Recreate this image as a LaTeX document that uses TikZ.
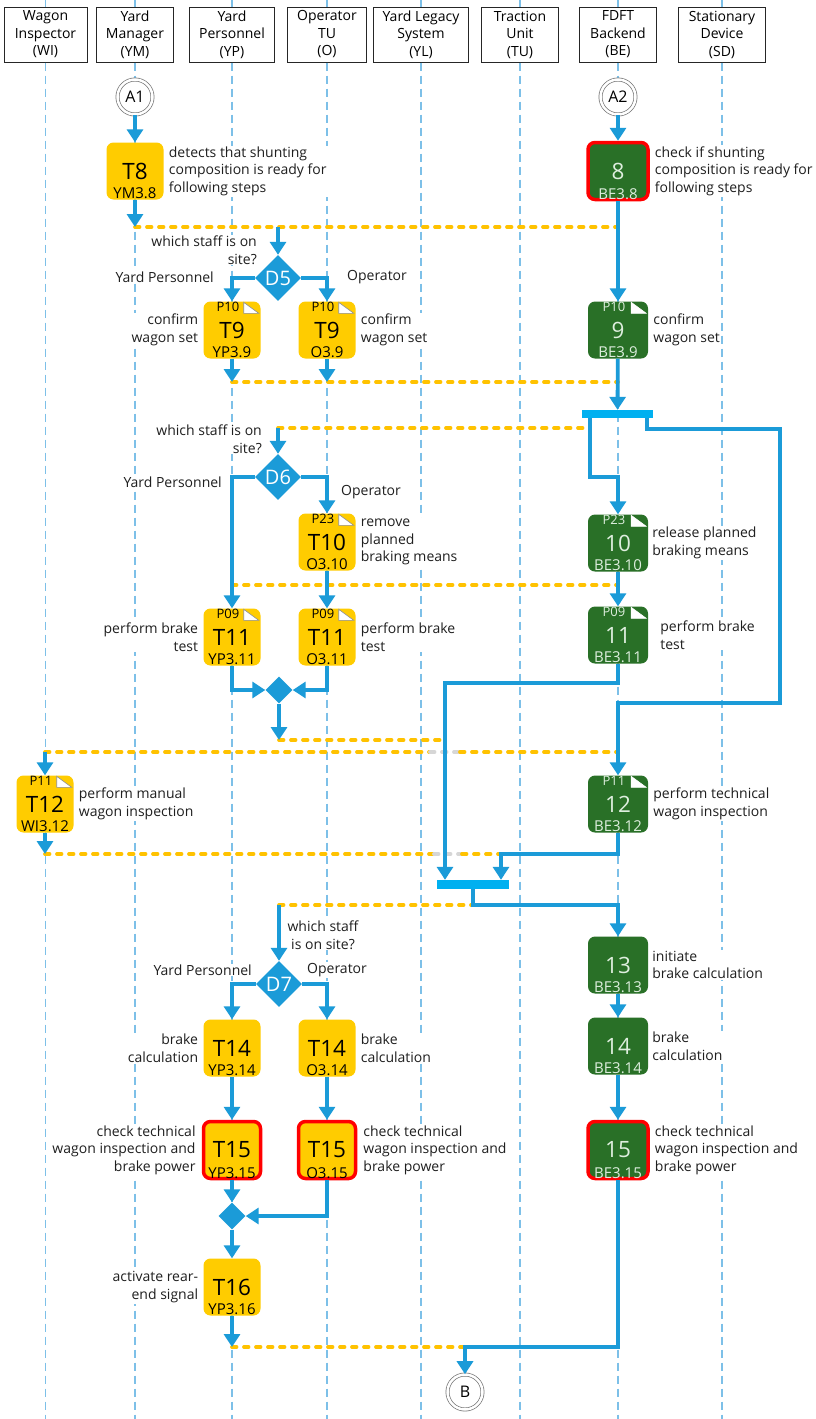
\documentclass[tikz,border=0pt]{standalone}
\usepackage{fontspec}
\setmainfont{Open Sans}
\usetikzlibrary{arrows.meta,shapes.geometric,positioning}

\definecolor{flowblue}{RGB}{27,155,216}
\definecolor{barblue}{RGB}{0,176,240}
\definecolor{taskyellow}{RGB}{255,204,0}
\definecolor{syncyellow}{RGB}{255,194,0}
\definecolor{begreen}{RGB}{41,112,39}
\definecolor{betext}{RGB}{222,238,222}
\definecolor{lanecol}{RGB}{125,192,232}
\definecolor{crossgrey}{RGB}{214,214,214}

\begin{document}
\begin{tikzpicture}[
    x=1pt, y=-1pt,
    >={Triangle[width=16pt,length=13pt]},
    font=\fontsize{14}{17.5}\selectfont,
    header/.style={
        draw=black!85,
        fill=white,
        line width=1pt,
        minimum height=55pt,
        inner sep=0pt,
        align=center
    },
    lane/.style={
        draw=lanecol,
        line width=1.1pt,
        dash pattern=on 8pt off 5pt
    },
    sync/.style={
        draw=syncyellow,
        line width=3.8pt,
        line cap=round,
        dash pattern=on 4.5pt off 7.5pt
    },
    crossing/.style={
        sync,
        draw=crossgrey
    },
    flow/.style={
        ->,
        draw=flowblue,
        line width=3.8pt
    },
    ytask/.style={
        fill=taskyellow,
        rounded corners=7pt,
        minimum width=57pt,
        minimum height=57pt,
        inner sep=0pt,
        font=\fontsize{22.5}{22.5}\selectfont
    },
    gtask/.style={
        ytask,
        fill=begreen,
        minimum width=60pt,
        text=betext
    },
    alert/.style={
        draw=red,
        line width=3.5pt
    },
    ymark/.style={
        anchor=south,
        inner sep=1pt,
        font=\fontsize{15}{15}\selectfont
    },
    gmark/.style={
        ymark,
        text=betext
    },
    ypage/.style={
        anchor=north,
        xshift=-4pt,
        inner sep=0.8pt,
        font=\fontsize{13}{13}\selectfont
    },
    gpage/.style={
        ypage,
        text=betext
    },
    ypageicon/.style={
        fill=white,
        draw=black!45,
        line width=0.6pt
    },
    gpageicon/.style={
        fill=white,
        draw=white,
        line width=0.6pt
    },
    bar/.style={
        fill=barblue,
        inner sep=0pt
    },
    decision/.style={
        diamond,
        fill=flowblue,
        text=white,
        minimum width=46pt,
        minimum height=46pt,
        inner sep=0pt,
        font=\fontsize{20}{20}\selectfont
    },
    merge/.style={
        diamond,
        fill=flowblue,
        minimum width=27pt,
        minimum height=27pt,
        inner sep=0pt
    },
    endpoint/.style={
        circle,
        draw=black!55,
        fill=white,
        line width=0.7pt,
        double=white,
        double distance=2.5pt,
        minimum size=35pt,
        inner sep=0pt,
        font=\fontsize{16}{16}\selectfont
    },
    desc/.style={
        fill=white,
        inner sep=1pt,
        align=left,
        text=black!88
    },
    descl/.style={
        desc,
        align=right
    },
    choice/.style={
        fill=white,
        inner sep=1pt,
        text=black!88
    }
]

\path[use as bounding box, fill=white] (0,0) rectangle (815,1419);

\node[header, minimum width=83pt] (hwi) at (45.5,34.5)
    {Wagon\\Inspector\\(WI)};
\node[header, minimum width=77pt] (hym) at (135,34.5)
    {Yard\\Manager\\(YM)};
\node[header, minimum width=85pt] (hyp) at (232,34.5)
    {Yard\\Personnel\\(YP)};
\node[header, minimum width=79pt] (ho) at (327,34.5)
    {Operator\\TU\\(O)};
\node[header, minimum width=95pt] (hyl) at (421,34.5)
    {Yard Legacy\\System\\(YL)};
\node[header, minimum width=77pt] (htu) at (520,34.5)
    {Traction\\Unit\\(TU)};
\node[header, minimum width=77pt] (hbe) at (618,34.5)
    {FDFT\\Backend\\(BE)};
\node[header, minimum width=87pt] (hsd) at (722,34.5)
    {Stationary\\Device\\(SD)};

\draw[lane] (hwi.north) -- ++(0,-8);
\draw[lane] (hym.north) -- ++(0,-8);
\draw[lane] (hyp.north) -- ++(0,-8);
\draw[lane] (ho.north) -- ++(0,-8);
\draw[lane] (hyl.north) -- ++(0,-8);
\draw[lane] (htu.north) -- ++(0,-8);
\draw[lane] (hbe.north) -- ++(0,-8);
\draw[lane] (hsd.north) -- ++(0,-8);
\draw[lane] (hwi.south) -- ++(0,1360);
\draw[lane] (hym.south) -- ++(0,1360);
\draw[lane] (hyp.south) -- ++(0,1360);
\draw[lane] (ho.south) -- ++(0,1360);
\draw[lane] (hyl.south) -- ++(0,1360);
\draw[lane] (htu.south) -- ++(0,1360);
\draw[lane] (hbe.south) -- ++(0,1360);
\draw[lane] (hsd.south) -- ++(0,1360);


\node[endpoint] (a1) at (135,97) {A1};
\node[endpoint] (a2) at (618,97) {A2};

\node[ytask, label={[ymark]south:YM3.8}] (t8) at (135,171) {T8};
\node[gtask, alert, label={[gmark]south:BE3.8}] (n8) at (618,171) {8};

\node[decision] (d5) at (278,278) {D5};

\node[ytask, label={[ypage]north:P10}, label={[ymark]south:YP3.9}] (t9yp) at (232,330) {T9};
\node[ytask, label={[ypage]north:P10}, label={[ymark]south:O3.9}] (t9o) at (327,330) {T9};
\node[gtask, label={[gpage]north:P10}, label={[gmark]south:BE3.9}] (n9) at (618,330) {9};

\node[bar, minimum width=71pt, minimum height=8pt] (bar1) at (617.5,414) {};

\node[decision] (d6) at (278,477) {D6};

\node[ytask, label={[ypage]north:P23}, label={[ymark]south:O3.10}] (t10) at (327,542) {T10};
\node[gtask, label={[gpage]north:P23}, label={[gmark]south:BE3.10}] (n10) at (618,543) {10};

\node[ytask, label={[ypage]north:P09}, label={[ymark]south:YP3.11}] (t11yp) at (232,637) {T11};
\node[ytask, label={[ypage]north:P09}, label={[ymark]south:O3.11}] (t11o) at (327,637) {T11};
\node[gtask, label={[gpage]north:P09}, label={[gmark]south:BE3.11}] (n11) at (618,635) {11};

\node[merge] (m1) at (279,690) {};

\node[ytask, label={[ypage]north:P11}, label={[ymark]south:WI3.12}] (t12) at (45,804) {T12};
\node[gtask, label={[gpage]north:P11}, label={[gmark]south:BE3.12}] (n12) at (618,804) {12};

\node[bar, minimum width=72pt, minimum height=9pt] (bar2) at (473,884.5) {};

\node[decision] (d7) at (279,984) {D7};

\node[gtask, label={[gmark]south:BE3.13}] (n13) at (618,965) {13};
\node[ytask, label={[ymark]south:YP3.14}] (t14yp) at (232,1048) {T14};
\node[ytask, label={[ymark]south:O3.14}] (t14o) at (327,1048) {T14};
\node[gtask, label={[gmark]south:BE3.14}] (n14) at (618,1046) {14};

\node[ytask, alert, label={[ymark]south:YP3.15}] (t15yp) at (232,1150) {T15};
\node[ytask, alert, label={[ymark]south:O3.15}] (t15o) at (327,1150) {T15};
\node[gtask, alert, label={[gmark]south:BE3.15}] (n15) at (618,1150) {15};

\node[merge] (m2) at (232,1216) {};

\node[ytask, label={[ymark]south:YP3.16}] (t16) at (232,1287) {T16};

\node[endpoint] (bend) at (465,1392) {B};


\filldraw[ypageicon] (t9yp.north east) ++(-17,1) -- ++(0,11) -- ++(15,0) -- cycle;
\filldraw[ypageicon] (t9o.north east) ++(-17,1) -- ++(0,11) -- ++(15,0) -- cycle;
\filldraw[gpageicon] (n9.north east) ++(-17,1) -- ++(0,11) -- ++(15,0) -- cycle;
\filldraw[ypageicon] (t10.north east) ++(-17,1) -- ++(0,11) -- ++(15,0) -- cycle;
\filldraw[gpageicon] (n10.north east) ++(-17,1) -- ++(0,11) -- ++(15,0) -- cycle;
\filldraw[ypageicon] (t11yp.north east) ++(-17,1) -- ++(0,11) -- ++(15,0) -- cycle;
\filldraw[ypageicon] (t11o.north east) ++(-17,1) -- ++(0,11) -- ++(15,0) -- cycle;
\filldraw[gpageicon] (n11.north east) ++(-17,1) -- ++(0,11) -- ++(15,0) -- cycle;
\filldraw[ypageicon] (t12.north east) ++(-17,1) -- ++(0,11) -- ++(15,0) -- cycle;
\filldraw[gpageicon] (n12.north east) ++(-17,1) -- ++(0,11) -- ++(15,0) -- cycle;


\node[desc, right=4pt of t8] (t8d)
    {detects that shunting\\composition is ready for\\following steps};
\node[desc, right=4pt of n8] (n8d)
    {check if shunting\\composition is ready for\\following steps};
\node[descl, left=4pt of t9yp] (t9ypd)
    {confirm\\wagon set};
\node[desc, right=4pt of t9o] (t9od)
    {confirm\\wagon set};
\node[desc, right=4pt of n9] (n9d)
    {confirm\\wagon set};
\node[desc, right=4pt of t10] (t10d)
    {remove\\planned\\braking means};
\node[desc, right=3pt of n10] (n10d)
    {release planned\\braking means};
\node[descl, left=4pt of t11yp] (t11ypd)
    {perform brake\\test};
\node[desc, right=4pt of t11o] (t11od)
    {perform brake\\test};
\node[desc, right=11pt of n11] (n11d)
    {perform brake\\test};
\node[desc, right=4pt of t12] (t12d)
    {perform manual\\wagon inspection};
\node[desc, right=4pt of n12] (n12d)
    {perform technical\\wagon inspection};
\node[desc, right=3pt of n13] (n13d)
    {initiate\\brake calculation};
\node[desc, right=3pt of n14] (n14d)
    {brake\\calculation};
\node[desc, right=4pt of n15] (n15d)
    {check technical\\wagon inspection and\\brake power};
\node[descl, left=4pt of t14yp] (t14ypd)
    {brake\\calculation};
\node[desc, right=4pt of t14o] (t14od)
    {brake\\calculation};
\node[descl, left=5pt of t15yp] (t15ypd)
    {check technical\\wagon inspection and\\brake power};
\node[desc, right=5pt of t15o] (t15od)
    {check technical\\wagon inspection and\\brake power};
\node[descl, left=4pt of t16] (t16d)
    {activate rear-\\end signal};

\node[choice, anchor=east, align=right] (q5) at (258,250)
    {which staff is on\\site?};
\node[choice, anchor=east] (q5yp) at (215,277)
    {Yard Personnel};
\node[choice, anchor=west] (q5o) at (346,277)
    {Operator};
\node[choice, anchor=east, align=right] (q6) at (263,439)
    {which staff is on\\site?};
\node[choice, anchor=east] (q6yp) at (223,482)
    {Yard Personnel};
\node[choice, anchor=west] (q6o) at (340,492)
    {Operator};
\node[choice, align=center] (q7) at (323,935)
    {which staff\\is on site?};
\node[choice, anchor=east] (q7yp) at (253,970)
    {Yard Personnel};
\node[choice, anchor=west] (q7o) at (306,970)
    {Operator};


\coordinate (s1a) at (135,227);
\coordinate (s1b) at (618,227);
\coordinate (s1d) at (278,227);
\coordinate (s2a) at (232,382);
\coordinate (s2b) at (327,382);
\coordinate (s2c) at (618,382);
\coordinate (s3a) at (278,428);
\coordinate (s3b) at (590,428);
\coordinate (s4a) at (232,585);
\coordinate (s4b) at (618,585);
\coordinate (s5a) at (279,740);
\coordinate (s5b) at (445,740);
\coordinate (s6a) at (45,752);
\coordinate (s6b) at (618,752);
\coordinate (s7a) at (45,854);
\coordinate (s7b) at (501,854);
\coordinate (s8a) at (279,905);
\coordinate (s8b) at (473,905);
\coordinate (s9a) at (232,1347);
\coordinate (s9b) at (465,1347);
\coordinate (k10) at (618,477);
\coordinate (k11) at (445,683);
\coordinate (k13) at (618,905);
\coordinate (loop1) at (780,429);
\coordinate (loop2) at (618,703);
\coordinate (cr6) at (445,752);
\coordinate (cr7) at (448,854);

\draw[sync] (s1a) -- (s1b);
\draw[sync] (s2a) -- (s2c);
\draw[sync] (s3a) -- (s3b);
\draw[sync] (s4a) -- (s4b);
\draw[sync] (s5a) -- (s5b);
\draw[sync] (s6a) -- ([xshift=-15pt]cr6);
\draw[crossing] ([xshift=-15pt]cr6) -- ([xshift=15pt]cr6);
\draw[sync] ([xshift=15pt]cr6) -- (s6b);
\draw[sync] (s7a) -- ([xshift=-14pt]cr7);
\draw[crossing] ([xshift=-14pt]cr7) -- ([xshift=14pt]cr7);
\draw[sync] ([xshift=14pt]cr7) -- (s7b);
\draw[sync] (s8a) -- (s8b);
\draw[sync] (s9a) -- (s9b);


\draw[flow] (a1) -- (t8);
\draw[flow] (a2) -- (n8);
\draw[flow] (t8) -- (s1a);
\draw[flow] (n8) -- (n9);
\draw[flow] (s1d) -- (d5);
\draw[flow] (d5.west) -| (t9yp.north);
\draw[flow] (d5.east) -| (t9o.north);
\draw[flow] (t9yp) -- (s2a);
\draw[flow] (t9o) -- (s2b);
\draw[flow] (n9) -- (bar1);

\draw[flow]
    (bar1.south -| s3b) |-
    (k10) --
    (n10);

\draw[flow]
    ([xshift=29.5pt]bar1.south) |-
    (loop1) |-
    (loop2) --
    (n12);

\draw[flow] (s3a) -- (d6);
\draw[flow] (d6.west) -| (t11yp.north);
\draw[flow] (d6.east) -| (t10.north);
\draw[flow] (t10) -- (t11o);
\draw[flow] (n10) -- (n11);
\draw[flow] (t11yp.south) |- (m1.west);
\draw[flow] (t11o.south) |- (m1.east);
\draw[flow] (m1) -- (s5a);

\draw[flow]
    (n11.south) |-
    (k11) --
    (k11 |- bar2.north);

\draw[flow] (s6a) -- (t12);
\draw[flow] (t12) -- (s7a);

\draw[flow]
    (n12.south) |-
    (s7b) --
    (s7b |- bar2.north);

\draw[flow]
    (bar2.south) |-
    (k13) --
    (n13);

\draw[flow] (s8a) -- (d7);
\draw[flow] (d7.west) -| (t14yp.north);
\draw[flow] (d7.east) -| (t14o.north);
\draw[flow] (t14yp) -- (t15yp);
\draw[flow] (t14o) -- (t15o);
\draw[flow] (n13) -- (n14);
\draw[flow] (n14) -- (n15);
\draw[flow] (t15yp) -- (m2);
\draw[flow] (t15o.south) |- (m2.east);
\draw[flow] (m2) -- (t16);
\draw[flow] (t16) -- (s9a);

\draw[flow]
    (n15.south) |-
    (s9b) --
    (bend);

\end{tikzpicture}
\end{document}
